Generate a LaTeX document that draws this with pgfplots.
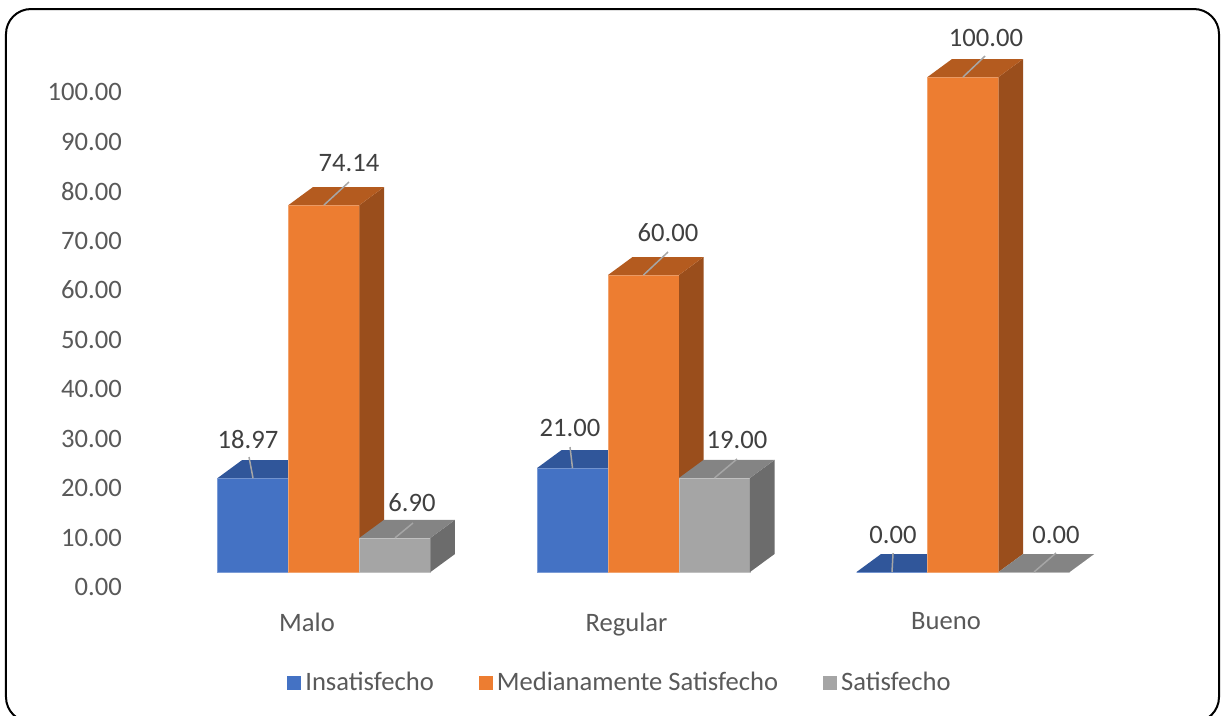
\documentclass[border=0pt]{standalone}
\usepackage{fontspec}
\setmainfont{Carlito}
\usepackage{pgfplots}
\usepackage{pgfplotstable}
\pgfplotsset{compat=1.18}
\definecolor{cblue}{HTML}{4472C4}
\definecolor{cbluetop}{HTML}{30569A}
\definecolor{cblueside}{HTML}{2A4A80}
\definecolor{corange}{HTML}{ED7D31}
\definecolor{coratop}{HTML}{B45B1F}
\definecolor{corside}{HTML}{9A4E1C}
\definecolor{cgray}{HTML}{A5A5A5}
\definecolor{cgraytop}{HTML}{848484}
\definecolor{cgrayside}{HTML}{6C6C6C}
\definecolor{ctick}{HTML}{595959}
\definecolor{clabel}{HTML}{404040}
\definecolor{cleader}{HTML}{A6A6A6}

\pgfplotsset{sqlegend/.style={legend image code/.code={\fill[##1,draw=none] (-1pt,-3.5pt) rectangle (6pt,3.5pt);}}}

\pgfplotstableread{
x ins med sat
0 18.97 74.14 6.90
1 21.00 60.00 19.00
2 0.00 100.00 0.00
}\datatable

% top and side faces of a 3D bar: row, column, shift, top colour, side colour
\newcommand{\faces}[5]{%
  \pgfplotstablegetelem{#1}{#2}\of\datatable
  \pgfmathsetmacro\va{\pgfplotsretval}%
  \pgfmathsetmacro\vb{\va+3.636}%
  \pgfmathsetmacro\xa{#1+#3-0.1111}%
  \pgfmathsetmacro\xb{#1+#3+0.1111}%
  \pgfmathsetmacro\xc{\xa+0.0767}%
  \pgfmathsetmacro\xd{\xb+0.0767}%
  \addplot[forget plot, fill=#5, draw=none] coordinates {(\xb,0) (\xb,\va) (\xd,\vb) (\xd,3.636)} -- cycle;
  \addplot[forget plot, fill=#4, draw=none] coordinates {(\xa,\va) (\xc,\vb) (\xd,\vb) (\xb,\va)} -- cycle;
}

\begin{document}
\begin{tikzpicture}
\begin{axis}[
  x=159.75pt, y=2.475pt,
  xmin=-0.6, xmax=2.6, ymin=-4, ymax=112,
  clip=false,
  axis line style={draw=none},
  tick style={draw=none},
  major tick length=0pt,
  /pgf/number format/assume math mode=true,
  xtick={0,1,2},
  xticklabels={Malo,Regular,Bueno},
  ytick={0,10,20,30,40,50,60,70,80,90,100},
  yticklabels={0.00,10.00,20.00,30.00,40.00,50.00,60.00,70.00,80.00,90.00,100.00},
  tick label style={font=\fontsize{13.3}{16}\selectfont, text=ctick},
  yticklabel style={yshift=-7.5pt, xshift=-1.7pt},
  xticklabel style={xshift=-8.5pt, yshift=-7pt},
  legend columns=-1,
  legend cell align=left,
  legend style={draw=none, fill=none, at={(0.478,-0.1585)}, anchor=center,
    font=\fontsize{13.3}{16}\selectfont, text=ctick,
    /tikz/every even column/.append style={column sep=20.5pt}},
]
% Insatisfecho
\addplot[ybar, bar width=0.2222, bar shift=-0.2222, fill=cblue, draw=cblue!70!white, line width=0.3pt, sqlegend]
  table[x=x,y=ins]{\datatable};
\addlegendentry{Insatisfecho}
\faces{0}{ins}{-0.2222}{cbluetop}{cblueside}
\faces{1}{ins}{-0.2222}{cbluetop}{cblueside}
\faces{2}{ins}{-0.2222}{cbluetop}{cblueside}
% Medianamente Satisfecho
\addplot[ybar, bar width=0.2222, bar shift=0, fill=corange, draw=corange!70!white, line width=0.3pt, sqlegend]
  table[x=x,y=med]{\datatable};
\addlegendentry{Medianamente Satisfecho}
\faces{0}{med}{0}{coratop}{corside}
\faces{1}{med}{0}{coratop}{corside}
\faces{2}{med}{0}{coratop}{corside}
% Satisfecho
\addplot[ybar, bar width=0.2222, bar shift=0.2222, fill=cgray, draw=cgray!70!white, line width=0.3pt, sqlegend]
  table[x=x,y=sat]{\datatable};
\addlegendentry{Satisfecho}
\faces{0}{sat}{0.2222}{cgraytop}{cgrayside}
\faces{1}{sat}{0.2222}{cgraytop}{cgrayside}
\faces{2}{sat}{0.2222}{cgraytop}{cgrayside}

% leader lines
\addplot[forget plot, cleader, line width=0.75pt] coordinates {(-0.2222,18.97) (-0.2347,23.23)};
\addplot[forget plot, cleader, line width=0.75pt] coordinates {(0,74.14) (0.0782,78.79)};
\addplot[forget plot, cleader, line width=0.75pt] coordinates {(0.2222,6.90) (0.2786,9.90)};
\addplot[forget plot, cleader, line width=0.75pt] coordinates {(0.7778,21.00) (0.770,25.25)};
\addplot[forget plot, cleader, line width=0.75pt] coordinates {(1,60.00) (1.0767,64.65)};
\addplot[forget plot, cleader, line width=0.75pt] coordinates {(1.2222,19.00) (1.2926,22.83)};
\addplot[forget plot, cleader, line width=0.75pt] coordinates {(1.7778,0.00) (1.781,3.84)};
\addplot[forget plot, cleader, line width=0.75pt] coordinates {(2,100.00) (2.069,104.24)};
\addplot[forget plot, cleader, line width=0.75pt] coordinates {(2.2222,0.00) (2.291,3.84)};

% data labels
\begin{scope}[every node/.style={font=\fontsize{13.3}{16}\selectfont, text=clabel}]
\node at (axis cs:-0.2379,26.87) {18.97};
\node at (axis cs:0.0782,82.63) {74.14};
\node at (axis cs:0.2754,13.94) {6.90};
\node at (axis cs:0.770,29.09) {21.00};
\node at (axis cs:1.0767,68.48) {60.00};
\node at (axis cs:1.2926,26.67) {19.00};
\node at (axis cs:1.781,7.47) {0.00};
\node at (axis cs:2.072,107.88) {100.00};
\node at (axis cs:2.291,7.47) {0.00};
\end{scope}

\coordinate (TL) at (axis cs:-1.01408,115.56);
\coordinate (BR) at (axis cs:2.82003,-28.889);
\coordinate (B1) at (axis cs:-0.99531,113.737);
\coordinate (B2) at (axis cs:2.80125,-30.303);
\end{axis}
\pgfresetboundingbox
\useasboundingbox (TL) rectangle (BR);
\draw[line width=1pt, rounded corners=12.5pt] (B1) rectangle (B2);
\end{tikzpicture}
\end{document}
